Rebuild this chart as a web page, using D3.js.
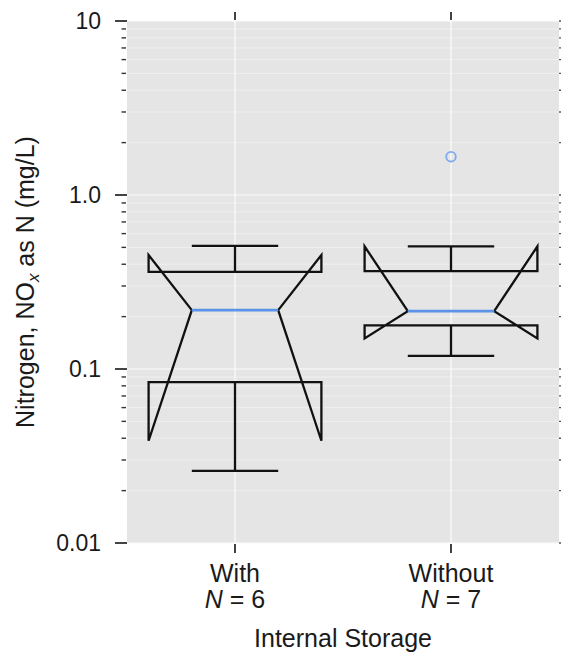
<!DOCTYPE html>
<html>
<head>
<meta charset="utf-8">
<script src="https://cdn.jsdelivr.net/npm/d3@7"></script>
<style>
  html, body { margin: 0; padding: 0; background: #ffffff; }
  svg { display: block; font-family: "Liberation Sans", Arial, Helvetica, sans-serif; }
</style>
</head>
<body>
<svg id="chart" width="561" height="652"></svg>
<script>
// Truncated (notched) boxplots of NOx concentrations, grouped by internal storage
const categories = ["With", "Without"];
const sampleCounts = [6, 7];
const upperWhisker = [0.51, 0.507];
const upperQuartile = [0.362, 0.365];
const medians = [0.218, 0.215];
const lowerQuartile = [0.084, 0.178];
const lowerWhisker = [0.026, 0.119];
const notchUpper = [0.452, 0.507];
const notchLower = [0.0387, 0.150];
const outliers = [[], [1.66]];

const yTickValues = [0.01, 0.1, 1, 10];
const yTickLabels = ["0.01", "0.1", "1.0", "10"];

const svg = d3.select("#chart");
const panel = { left: 127, right: 559, top: 21, bottom: 543 };

const x = d3.scalePoint()
  .domain(categories)
  .range([panel.left, panel.right])
  .padding(0.5);
const step = x.step();

const y = d3.scaleLog()
  .domain([0.01, 10])
  .range([panel.bottom, panel.top]);

// minor ticks 2..9 in each decade
const minorTicks = [];
for (let d = 0.01; d < 10; d *= 10) {
  for (let m = 2; m <= 9; m++) minorTicks.push(+(d * m).toPrecision(3));
}

// plotting panel
svg.append("rect")
  .attr("x", panel.left).attr("y", panel.top)
  .attr("width", panel.right - panel.left)
  .attr("height", panel.bottom - panel.top)
  .attr("fill", "#e5e5e5");

// grid lines
const grid = svg.append("g");
grid.selectAll(".minor").data(minorTicks).join("line")
  .attr("x1", panel.left).attr("x2", panel.right)
  .attr("y1", d => y(d)).attr("y2", d => y(d))
  .attr("stroke", "#efefef").attr("stroke-width", 1);
grid.selectAll(".major").data(yTickValues).join("line")
  .attr("x1", panel.left).attr("x2", panel.right)
  .attr("y1", d => y(d)).attr("y2", d => y(d))
  .attr("stroke", "#fbfbfb").attr("stroke-width", 1.2);
grid.selectAll(".vert").data(categories).join("line")
  .attr("x1", d => x(d)).attr("x2", d => x(d))
  .attr("y1", panel.top).attr("y2", panel.bottom)
  .attr("stroke", "#fbfbfb").attr("stroke-width", 1.2);

// left axis: major and minor ticks
const axisG = svg.append("g");
axisG.selectAll(".ymaj").data(yTickValues).join("line")
  .attr("x1", panel.left - 12).attr("x2", panel.left)
  .attr("y1", d => y(d)).attr("y2", d => y(d))
  .attr("stroke", "#222").attr("stroke-width", 1.7);
axisG.selectAll(".ymin").data(minorTicks).join("line")
  .attr("x1", panel.left - 5.5).attr("x2", panel.left - 1)
  .attr("y1", d => y(d)).attr("y2", d => y(d))
  .attr("stroke", "#333").attr("stroke-width", 1.4);
// right axis ticks
axisG.selectAll(".yr").data(yTickValues.concat(minorTicks)).join("line")
  .attr("x1", panel.right).attr("x2", panel.right + 4)
  .attr("y1", d => y(d)).attr("y2", d => y(d))
  .attr("stroke", "#555").attr("stroke-width", 1.3);

axisG.selectAll(".ylab").data(yTickValues).join("text")
  .attr("x", 101).attr("y", d => y(d))
  .attr("dy", "0.36em")
  .attr("text-anchor", "end")
  .attr("font-size", 23)
  .attr("fill", "#1a1a1a")
  .text((d, i) => yTickLabels[i]);

// top and bottom category ticks
axisG.selectAll(".xtop").data(categories).join("line")
  .attr("x1", d => x(d)).attr("x2", d => x(d))
  .attr("y1", panel.top - 9).attr("y2", panel.top - 1)
  .attr("stroke", "#222").attr("stroke-width", 1.7);
axisG.selectAll(".xbot").data(categories).join("line")
  .attr("x1", d => x(d)).attr("x2", d => x(d))
  .attr("y1", panel.bottom + 1).attr("y2", panel.bottom + 10)
  .attr("stroke", "#222").attr("stroke-width", 1.7);

// category labels with sample counts
const catLab = axisG.selectAll(".xlab").data(categories).join("g");
catLab.append("text")
  .attr("x", d => x(d)).attr("y", 582)
  .attr("text-anchor", "middle")
  .attr("font-size", 25)
  .attr("fill", "#1a1a1a")
  .text(d => d);
const nLab = catLab.append("text")
  .attr("x", d => x(d)).attr("y", 608)
  .attr("text-anchor", "middle")
  .attr("font-size", 25)
  .attr("fill", "#1a1a1a");
nLab.append("tspan").attr("font-style", "italic").text("N");
nLab.append("tspan").text((d, i) => " = " + sampleCounts[i]);

// axis titles
svg.append("text")
  .attr("x", (panel.left + panel.right) / 2).attr("y", 647)
  .attr("text-anchor", "middle")
  .attr("font-size", 25)
  .attr("fill", "#1a1a1a")
  .text("Internal Storage");

const yTitle = svg.append("text")
  .attr("transform", `translate(34,${(panel.top + panel.bottom) / 2}) rotate(-90)`)
  .attr("text-anchor", "middle")
  .attr("font-size", 25)
  .attr("fill", "#1a1a1a");
yTitle.append("tspan").text("Nitrogen, NO");
yTitle.append("tspan").attr("font-style", "italic").attr("font-size", 17).attr("dy", 5).text("x");
yTitle.append("tspan").attr("dy", -5).text(" as N (mg/L)");

// boxes
const boxG = svg.append("g");
categories.forEach((c, i) => {
  const cx = x(c);
  const bw = step * 0.4;   // half box width
  const cw = step * 0.2;   // half width of notch waist / whisker caps
  const yq3 = y(upperQuartile[i]), yq1 = y(lowerQuartile[i]);
  const yMed = y(medians[i]);
  const yNu = y(notchUpper[i]), yNl = y(notchLower[i]);

  const outline = d3.path();
  outline.moveTo(cx - bw, yq3);
  outline.lineTo(cx - bw, yNu);
  outline.lineTo(cx - cw, yMed);
  outline.lineTo(cx - bw, yNl);
  outline.lineTo(cx - bw, yq1);
  outline.lineTo(cx + bw, yq1);
  outline.lineTo(cx + bw, yNl);
  outline.lineTo(cx + cw, yMed);
  outline.lineTo(cx + bw, yNu);
  outline.lineTo(cx + bw, yq3);
  outline.closePath();

  boxG.append("path")
    .attr("d", outline.toString())
    .attr("fill", "none")
    .attr("stroke", "#111")
    .attr("stroke-width", 2.3)
    .attr("stroke-linejoin", "miter");

  // whiskers
  [[upperQuartile[i], upperWhisker[i]], [lowerQuartile[i], lowerWhisker[i]]].forEach(([from, to]) => {
    boxG.append("line")
      .attr("x1", cx).attr("x2", cx)
      .attr("y1", y(from)).attr("y2", y(to))
      .attr("stroke", "#111").attr("stroke-width", 2.3);
    boxG.append("line")
      .attr("x1", cx - cw).attr("x2", cx + cw)
      .attr("y1", y(to)).attr("y2", y(to))
      .attr("stroke", "#111").attr("stroke-width", 2.3);
  });

  // median
  boxG.append("line")
    .attr("x1", cx - cw).attr("x2", cx + cw)
    .attr("y1", yMed).attr("y2", yMed)
    .attr("stroke", "#5b93ea").attr("stroke-width", 2.6);

  // outliers
  boxG.selectAll(null).data(outliers[i]).join("circle")
    .attr("cx", cx).attr("cy", d => y(d))
    .attr("r", 4.8)
    .attr("fill", "none")
    .attr("stroke", "#7ea8ef")
    .attr("stroke-width", 1.8);
});
</script>
</body>
</html>
